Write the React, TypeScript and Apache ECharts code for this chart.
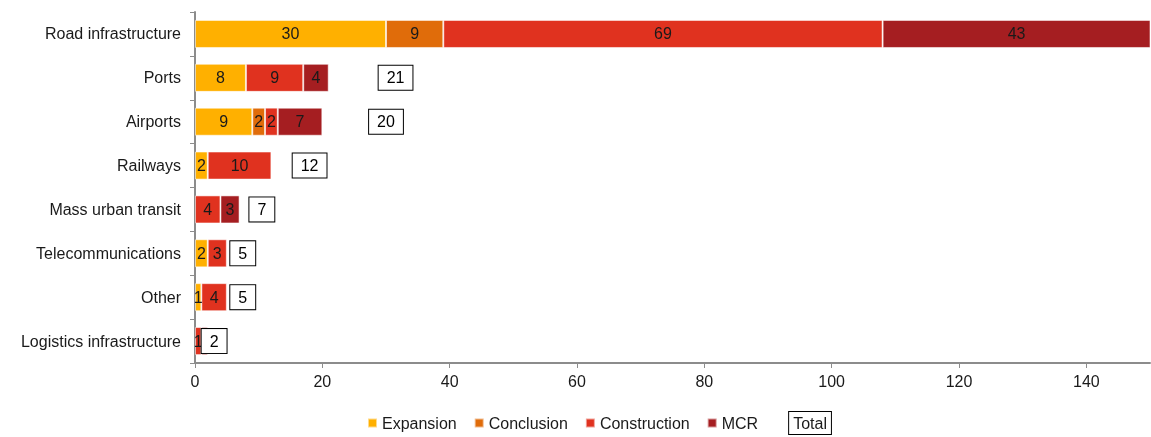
import React, { useEffect, useRef } from "react";
import * as echarts from "echarts";

const categories = [
  "Road infrastructure",
  "Ports",
  "Airports",
  "Railways",
  "Mass urban transit",
  "Telecommunications",
  "Other",
  "Logistics infrastructure",
];

const expansion = [30, 8, 9, 2, null, 2, 1, null];
const conclusion = [9, null, 2, null, null, null, null, null];
const construction = [69, 9, 2, 10, 4, 3, 4, 1];
const mcr = [43, 4, 7, null, 3, null, null, 1];
const totals = [151, 21, 20, 12, 7, 5, 5, 2];

const xTicks = { min: 0, max: 150, interval: 20 };

const FONT = "'Liberation Sans', Arial, sans-serif";

export default function App() {
  const ref = useRef<HTMLDivElement>(null);

  useEffect(() => {
    if (!ref.current) return;
    const chart = echarts.init(ref.current, null, { renderer: "svg" });

    const segLabel = {
      show: true,
      position: "inside",
      color: "#1a1a1a",
      fontSize: 16,
      fontFamily: FONT,
    };
    const segBorder = { borderColor: "rgba(255,255,255,0.55)", borderWidth: 1 };

    const seg = (name: string, data: (number | null)[], color: string) => ({
      name,
      type: "bar",
      stack: "all",
      data,
      barWidth: "64%",
      itemStyle: { color, ...segBorder },
      label: segLabel,
      labelLayout: { hideOverlap: false },
      emphasis: { disabled: true },
    });

    chart.setOption({
      animation: false,
      textStyle: { fontFamily: FONT },
      grid: { left: 195, right: 1, top: 12, bottom: 74, containLabel: false },
      legend: {
        left: 362,
        top: 406,
        itemWidth: 9,
        itemHeight: 9,
        itemGap: 17,
        icon: "rect",
        textStyle: { fontSize: 16, color: "#1a1a1a", fontFamily: FONT },
        data: [
          "Expansion",
          "Conclusion",
          "Construction",
          "MCR",
          {
            name: "Total",
            icon: "none",
            textStyle: {
              borderColor: "#000",
              borderWidth: 1,
              padding: [3, 4],
              backgroundColor: "#fff",
            },
          },
        ],
      },
      xAxis: {
        type: "value",
        min: xTicks.min,
        max: xTicks.max,
        interval: xTicks.interval,
        splitLine: { show: false },
        axisLine: { show: true, lineStyle: { color: "#8c8c8c", width: 2 } },
        axisTick: { show: true, length: 5, lineStyle: { color: "#8c8c8c" } },
        axisLabel: {
          color: "#1a1a1a",
          fontSize: 16,
          margin: 10,
          showMaxLabel: false,
        },
      },
      yAxis: {
        type: "category",
        data: categories,
        inverse: true,
        axisLine: { show: true, lineStyle: { color: "#8c8c8c", width: 2 } },
        axisTick: { show: true, length: 5, lineStyle: { color: "#8c8c8c" } },
        axisLabel: { color: "#1a1a1a", fontSize: 16, margin: 14 },
      },
      series: [
        seg("Expansion", expansion, "#FFB000"),
        seg("Conclusion", conclusion, "#E06C0A"),
        seg("Construction", construction, "#E0321F"),
        seg("MCR", mcr, "#A51E21"),
        {
          name: "Total",
          type: "bar",
          stack: "all",
          data: totals,
          barWidth: "64%",
          itemStyle: { color: "rgba(0,0,0,0)" },
          label: {
            show: true,
            position: "inside",
            color: "#000",
            fontSize: 16,
            fontFamily: FONT,
            backgroundColor: "#fff",
            borderColor: "#000",
            borderWidth: 1,
            padding: [4, 8],
          },
          emphasis: { disabled: true },
        },
      ],
    });

    return () => chart.dispose();
  }, []);

  return (
    <div
      ref={ref}
      style={{ position: "fixed", left: 0, top: 0, width: 1151, height: 437 }}
    />
  );
}
